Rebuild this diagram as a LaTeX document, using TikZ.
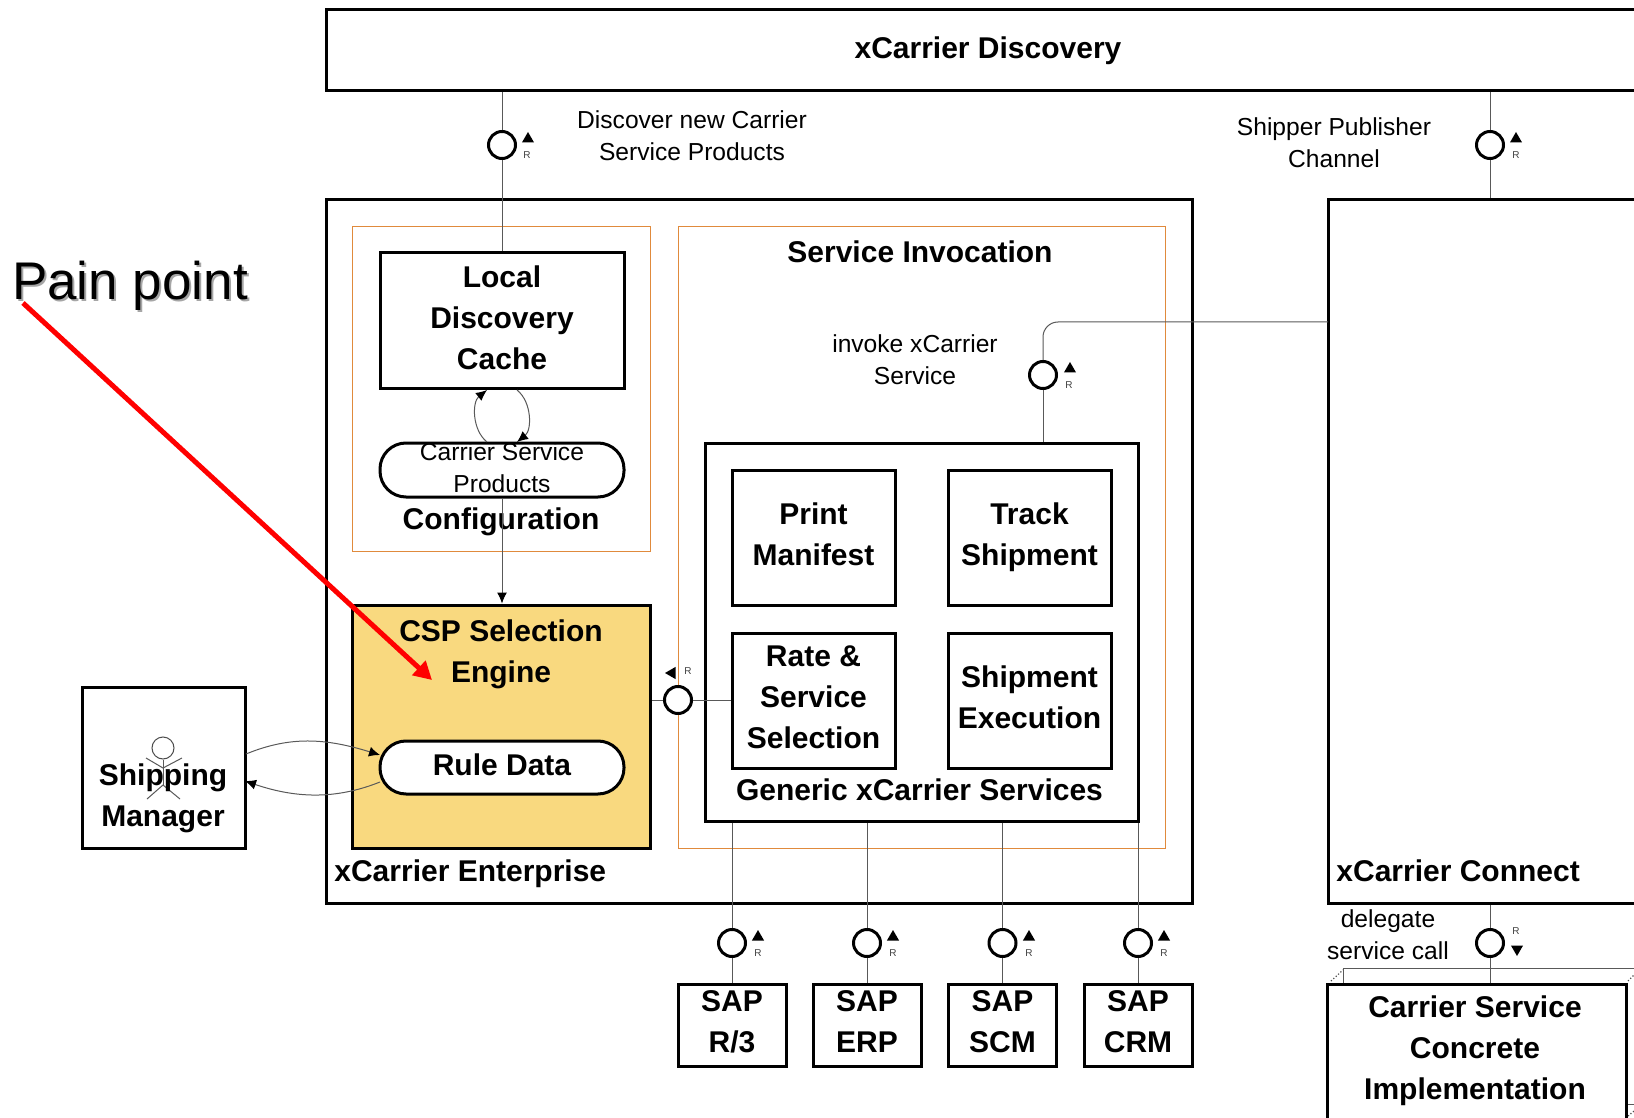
\documentclass[tikz,border=0pt]{standalone}
\usepackage{fontspec}
\setmainfont{Liberation Sans}
\usepackage{tikz}
\usetikzlibrary{arrows.meta}
\usetikzlibrary{shapes.geometric}
\tikzset{>=latex}
\definecolor{cspyellow}{HTML}{F9D97F}
\definecolor{frameorange}{HTML}{E08A3C}
\tikzset{box/.style = {shape=rectangle,draw,line width=1.5pt,fill=white,inner sep=0pt,align=center,text depth=3.2pt,font=\bfseries\fontsize{15}{20.5}\selectfont}}
\tikzset{frame/.style = {shape=rectangle,draw=frameorange,line width=.5pt,inner sep=0pt}}
\tikzset{title/.style = {inner sep=0pt,align=center,font=\bfseries\fontsize{15}{20.5}\selectfont}}
\tikzset{note/.style = {inner sep=0pt,align=center,font=\fontsize{12.3}{16}\selectfont}}
\tikzset{plug/.style = {shape=circle,draw,line width=1.5pt,fill=white,inner sep=0pt,minimum size=13.5pt}}
\tikzset{wire/.style = {draw=black!65,line width=.5pt}}
\tikzset{edge/.style = {wire,-{Latex[length=5.5pt,width=5pt,black]}}}
\tikzset{rmark/.style = {inner sep=0pt,text=black!75,font=\fontsize{5}{6}\selectfont}}
\tikzset{tri/.style = {shape=regular polygon,regular polygon sides=3,fill=black,inner sep=0pt,minimum size=7pt}}
\begin{document}
\begin{tikzpicture}[x=.5pt,y=-.5pt]
                \clip (0,0) rectangle (1634,1118);
                \node[box,minimum width=662pt,minimum height=40.5pt] (discovery) at (988,50.5) {};
                \node[title] (discoverytext) at (988,51) {xCarrier Discovery};
                \node[box,minimum width=433pt,minimum height=351.5pt] (enterprise) at (759,551.5) {};
                \node[title,anchor=west] (enterprisetext) at (334,874) {xCarrier Enterprise};
                \node[box,minimum width=211pt,minimum height=351.5pt] (connect) at (1539,551.5) {};
                \node[title,anchor=west] (connecttext) at (1336,871) {xCarrier Connect};
                \node[frame,minimum width=149pt,minimum height=162pt] (configframe) at (501,389) {};
                \node[title] (configtext) at (501,522) {Configuration};
                \node[frame,minimum width=243.5pt,minimum height=310.5pt] (invokeframe) at (921.5,537.5) {};
                \node[title] (invoketext) at (920,252) {Service Invocation};
                \node[box,minimum width=122pt,minimum height=68pt] (cache) at (502,321) {Local\\Discovery\\Cache};
                \node[box,rounded corners=13pt,minimum width=122pt,minimum height=27pt] (products) at (502,470) {};
                \node[note] (productstext) at (502,468) {Carrier Service\\Products};
                \coordinate (cacheleft) at (487,390);
                \coordinate (cacheright) at (517,390);
                \coordinate (prodleft) at (487,442);
                \coordinate (prodright) at (517,442);
                \draw[edge] (prodleft) .. controls (472,430) and (472,402) .. (cacheleft);
                \draw[edge] (cacheright) .. controls (532,402) and (532,430) .. (prodright);
                \node[box,fill=cspyellow,minimum width=149pt,minimum height=121.5pt] (csp) at (501,726.5) {};
                \node[title] (csptext) at (501,654) {CSP Selection\\Engine};
                \draw[edge] (products.south) -- (products.south |- csp.north);
                \node[box,rounded corners=13pt,minimum width=122pt,minimum height=26.5pt] (rule) at (502,767.5) {Rule Data};
                \node[box,minimum width=81.5pt,minimum height=80.5pt] (manager) at (163.5,767.5) {};
                \node[shape=circle,draw=black!70,line width=.5pt,inner sep=0pt,minimum size=11pt] (head) at (163,748) {};
                \coordinate (hip) at (163,785);
                \draw[wire] (head.south) -- (hip);
                \draw[wire] (146,758) -- (163,768) -- (182,758);
                \draw[wire] (147,799) -- (hip) -- (180,799);
                \node[title] (managertext) at (163,798) {Shipping\\Manager};
                \coordinate (ruleup) at (380,755);
                \coordinate (ruledown) at (380,782);
                \coordinate (mgrup) at (246,754);
                \coordinate (mgrdown) at (245,781);
                \draw[edge] (mgrup) .. controls (290,736) and (325,738) .. (ruleup);
                \draw[edge] (ruledown) .. controls (335,800) and (295,798) .. (mgrdown);
                \node[box,minimum width=216.5pt,minimum height=189pt] (generic) at (921.5,632) {};
                \node[title] (generictext) at (919.5,790) {Generic xCarrier Services};
                \node[box,minimum width=81.5pt,minimum height=67.5pt] (print) at (813.5,537.5) {Print\\Manifest};
                \node[box,minimum width=81.5pt,minimum height=67.5pt] (track) at (1029.5,537.5) {Track\\Shipment};
                \node[box,minimum width=81.5pt,minimum height=67.5pt] (rate) at (813.5,700.5) {Rate \&\\Service\\Selection};
                \node[box,minimum width=81.5pt,minimum height=67.5pt] (execution) at (1029.5,700.5) {Shipment\\Execution};
                \node[plug] (discoverplug) at (502,145) {};
                \draw[wire] (discoverplug) -- (discoverplug |- discovery.south);
                \draw[wire] (discoverplug) -- (discoverplug |- cache.north);
                \node[tri] (discovertri) at (528,139) {};
                \node[rmark] (discoverr) at (527,155) {R};
                \node[note] (discovertext) at (692,136) {Discover new Carrier\\Service Products};
                \node[plug] (shipperplug) at (1490,145) {};
                \draw[wire] (shipperplug) -- (shipperplug |- discovery.south);
                \draw[wire] (shipperplug) -- (shipperplug |- connect.north);
                \node[tri] (shippertri) at (1516,139) {};
                \node[rmark] (shipperr) at (1516,155) {R};
                \node[note] (shippertext) at (1334,143) {Shipper Publisher\\Channel};
                \node[plug] (invokeplug) at (1043,375) {};
                \coordinate (invokejoin) at (1328,322);
                \draw[wire,rounded corners=7.5pt] (invokeplug) |- (invokejoin);
                \draw[wire] (invokeplug) -- (invokeplug |- generic.north);
                \node[tri] (invoketri) at (1070,369) {};
                \node[rmark] (invoker) at (1069,385) {R};
                \node[note] (invokenote) at (915,360) {invoke xCarrier\\Service};
                \node[plug] (rateplug) at (678,700) {};
                \draw[wire] (rateplug) -- (rateplug -| csp.east);
                \draw[wire] (rateplug) -- (rateplug -| rate.west);
                \node[tri,shape border rotate=90] (ratetri) at (672,673) {};
                \node[rmark] (rater) at (688,671) {R};
                \node[box,minimum width=54pt,minimum height=41pt] (sapr) at (732,1025) {SAP\\R/3};
                \node[plug] (saprplug) at (732,943) {};
                \draw[wire] (saprplug) -- (saprplug |- generic.south);
                \draw[wire] (saprplug) -- (sapr);
                \node[tri] (saprtri) at (758,937) {};
                \node[rmark] (saprr) at (758,953) {R};
                \node[box,minimum width=54pt,minimum height=41pt] (saperp) at (867,1025) {SAP\\ERP};
                \node[plug] (saperpplug) at (867,943) {};
                \draw[wire] (saperpplug) -- (saperpplug |- generic.south);
                \draw[wire] (saperpplug) -- (saperp);
                \node[tri] (saperptri) at (893,937) {};
                \node[rmark] (saperpr) at (893,953) {R};
                \node[box,minimum width=54pt,minimum height=41pt] (sapscm) at (1002.5,1025) {SAP\\SCM};
                \node[plug] (sapscmplug) at (1002.5,943) {};
                \draw[wire] (sapscmplug) -- (sapscmplug |- generic.south);
                \draw[wire] (sapscmplug) -- (sapscm);
                \node[tri] (sapscmtri) at (1029,937) {};
                \node[rmark] (sapscmr) at (1029,953) {R};
                \node[box,minimum width=54pt,minimum height=41pt] (sapcrm) at (1138,1025) {SAP\\CRM};
                \node[plug] (sapcrmplug) at (1138,943) {};
                \draw[wire] (sapcrmplug) -- (sapcrmplug |- generic.south);
                \draw[wire] (sapcrmplug) -- (sapcrm);
                \node[tri] (sapcrmtri) at (1164,937) {};
                \node[rmark] (sapcrmr) at (1164,953) {R};
                \draw[wire] (1343,984) -- (1343,968) -- (1634,968);
                \draw[wire] (1626,1104) -- (1634,1104);
                \draw[black!70,densely dotted,line width=.6pt] (1331,981) -- (1343,970);
                \draw[black!70,densely dotted,line width=.6pt] (1628,981) -- (1634,975);
                \draw[black!70,densely dotted,line width=.6pt] (1628,1116) -- (1634,1111);
                \node[box,minimum width=149.5pt,minimum height=108pt] (concrete) at (1476.5,1092) {};
                \node[title] (concretetext) at (1475,1051) {Carrier Service\\Concrete\\Implementation};
                \node[plug] (delegateplug) at (1490,943) {};
                \draw[wire] (delegateplug) -- (delegateplug |- connect.south);
                \draw[wire] (delegateplug) -- (delegateplug |- concrete.north);
                \node[tri,shape border rotate=180] (delegatetri) at (1517,949) {};
                \node[rmark] (delegater) at (1516,931) {R};
                \node[note] (delegatetext) at (1388,935) {delegate\\service call};
                \node[inner sep=0pt,text=black!35,font=\fontsize{26.5}{30}\selectfont] (painshadow) at (132,288) {Pain point};
                \node[inner sep=0pt,font=\fontsize{26.5}{30}\selectfont] (pain) at (130,286) {Pain point};
                \coordinate (painstart) at (23,303);
                \coordinate (paintip) at (432,680);
                \draw[red,line width=2.5pt,-{Triangle[length=9pt,width=9.5pt]}] (painstart) -- (paintip);
            \end{tikzpicture}
\end{document}
